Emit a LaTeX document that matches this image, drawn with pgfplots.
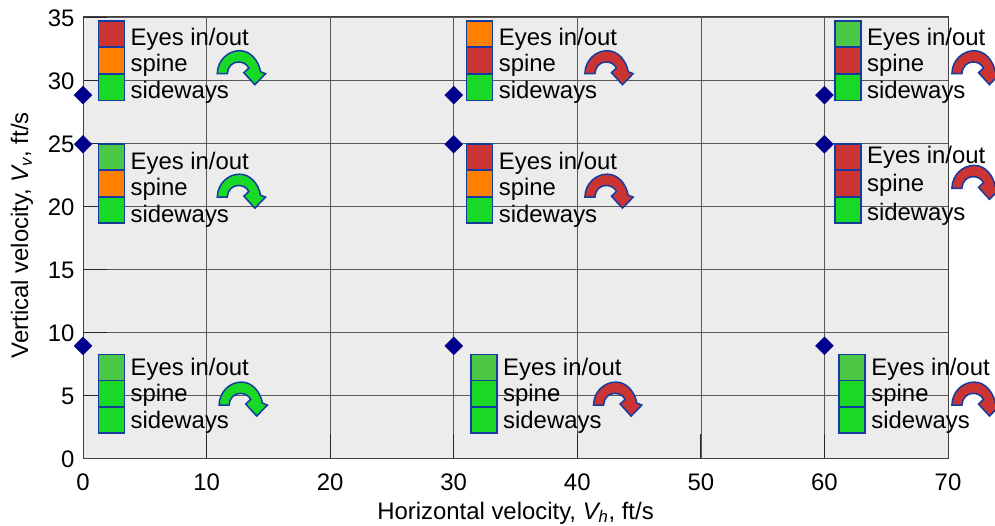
\documentclass[border=0pt]{standalone}
\usepackage{pgfplots}
\pgfplotsset{compat=1.18}
\usepackage{fontspec}
\setmainfont{Liberation Sans}
\definecolor{panel}{RGB}{236,236,236}
\definecolor{redc}{RGB}{204,51,51}
\definecolor{orangec}{RGB}{255,128,0}
\definecolor{greenc}{RGB}{25,217,38}
\definecolor{ltgreen}{RGB}{77,200,70}
\definecolor{edge}{RGB}{20,60,160}
\definecolor{navy}{RGB}{0,0,140}

% the curved arrow, 1bp = 1px of the reference
\pgfdeclareplotmark{turn}{%
  \pgfpathmoveto{\pgfqpoint{-23.3bp}{0bp}}
  \pgfpathcurveto{\pgfqpoint{-23bp}{14bp}}{\pgfqpoint{-12bp}{23bp}}{\pgfqpoint{-1bp}{23bp}}
  \pgfpathcurveto{\pgfqpoint{10bp}{23bp}}{\pgfqpoint{18bp}{13bp}}{\pgfqpoint{20bp}{2bp}}
  \pgfpathlineto{\pgfqpoint{25bp}{0bp}}
  \pgfpathlineto{\pgfqpoint{14.3bp}{-11bp}}
  \pgfpathlineto{\pgfqpoint{3.3bp}{1bp}}
  \pgfpathlineto{\pgfqpoint{8.3bp}{5.7bp}}
  \pgfpathcurveto{\pgfqpoint{6bp}{10bp}}{\pgfqpoint{2bp}{11.7bp}}{\pgfqpoint{-2.3bp}{11.7bp}}
  \pgfpathcurveto{\pgfqpoint{-8bp}{11.7bp}}{\pgfqpoint{-13bp}{7bp}}{\pgfqpoint{-13.3bp}{0bp}}
  \pgfpathclose
  \pgfusepathqfillstroke
}

\begin{document}
\begin{tikzpicture}
\useasboundingbox (-83bp,-68bp) rectangle (912bp,458bp);
\clip (-83bp,-68bp) rectangle (912bp,458bp);
\begin{axis}[
    scale only axis,
    width=865bp, height=441bp,
    xmin=0, xmax=70, ymin=0, ymax=35,
    xtick={0,10,...,70}, ytick={0,5,...,35},
    axis background/.style={fill=panel},
    axis line style={black!75, line width=1pt},
    grid=major,
    grid style={black!65, line width=0.7pt},
    tick pos=lower,
    tick align=inside,
    major tick length=24bp,
    tick style={black!85, line width=0.8pt},
    clip=false,
    font=\fontsize{24}{26}\selectfont,
    /pgf/number format/assume math mode=true,
    xticklabel style={yshift=-12bp},
    yticklabel style={xshift=-5bp,yshift=-1bp},
    xlabel={Horizontal velocity, \textit{V\textsubscript{h}}, ft/s},
    ylabel={Vertical velocity, \textit{V\textsubscript{v}}, ft/s},
    xlabel style={at={(axis description cs:0.5,0)},anchor=center,yshift=-55bp},
    ylabel style={at={(axis description cs:0,0.505)},anchor=center,yshift=61bp},
]
% labels: x, y, gap to spine, gap to sideways
\foreach \cx/\cy/\ga/\gb in {2.3/33.25/26/53,2.3/23.42/26/53,32.1/33.25/26/53,32.1/23.42/26/53,61.9/33.25/26/53,61.9/23.9/28/57,2.3/7.04/26/53,32.45/7.04/26/53,62.25/7.04/26/53}{
  \edef\tmp{\noexpand\node[anchor=west,inner sep=0pt,xshift=19bp] at (axis cs:\cx,\cy) {Eyes in/out};
    \noexpand\node[anchor=west,inner sep=0pt,xshift=19bp,yshift=-\ga bp] at (axis cs:\cx,\cy) {spine};
    \noexpand\node[anchor=west,inner sep=0pt,xshift=19bp,yshift=-\gb bp] at (axis cs:\cx,\cy) {sideways};}
  \tmp
}
% coloured cells
\addplot[only marks, mark=square*, mark size=13bp, mark options={fill=redc,draw=edge,line width=1.5bp}] coordinates {
  (2.3,33.65) (32.1,31.55) (61.9,31.55) (32.1,23.9) (61.9,23.9) (61.9,21.8)};
\addplot[only marks, mark=square*, mark size=13bp, mark options={fill=orangec,draw=edge,line width=1.5bp}] coordinates {
  (2.3,31.55) (32.1,33.65) (2.3,21.8) (32.1,21.8)};
\addplot[only marks, mark=square*, mark size=13bp, mark options={fill=greenc,draw=edge,line width=1.5bp}] coordinates {
  (2.3,29.4) (32.1,29.4) (61.9,29.4) (2.3,19.7) (32.1,19.7) (61.9,19.7)
  (2.3,5.1) (2.3,3.0) (32.45,5.1) (32.45,3.0) (62.25,5.1) (62.25,3.0)};
\addplot[only marks, mark=square*, mark size=13bp, mark options={fill=ltgreen,draw=edge,line width=1.5bp}] coordinates {
  (61.9,33.65) (2.3,23.9) (2.3,7.2) (32.45,7.2) (62.25,7.2)};
% arrows
\addplot[only marks, mark=turn, mark options={fill=greenc,draw=edge,line width=1.5bp}] coordinates {
  (12.75,30.5) (12.75,20.7) (12.9,4.2)};
\addplot[only marks, mark=turn, mark options={fill=redc,draw=edge,line width=1.5bp}] coordinates {
  (42.5,30.5) (42.5,20.7) (43.2,4.2) (72.2,30.5) (72.2,21.4) (72.2,4.2)};
% test points
\addplot[only marks, mark=diamond*, mark size=9bp, mark options={fill=navy,draw=navy,line width=0.3pt,xscale=1.33}] coordinates {
  (0,8.9) (30,8.9) (60,8.9) (0,24.9) (30,24.9) (60,24.9) (0,28.8) (30,28.8) (60,28.8)};
\end{axis}
\end{tikzpicture}
\end{document}
